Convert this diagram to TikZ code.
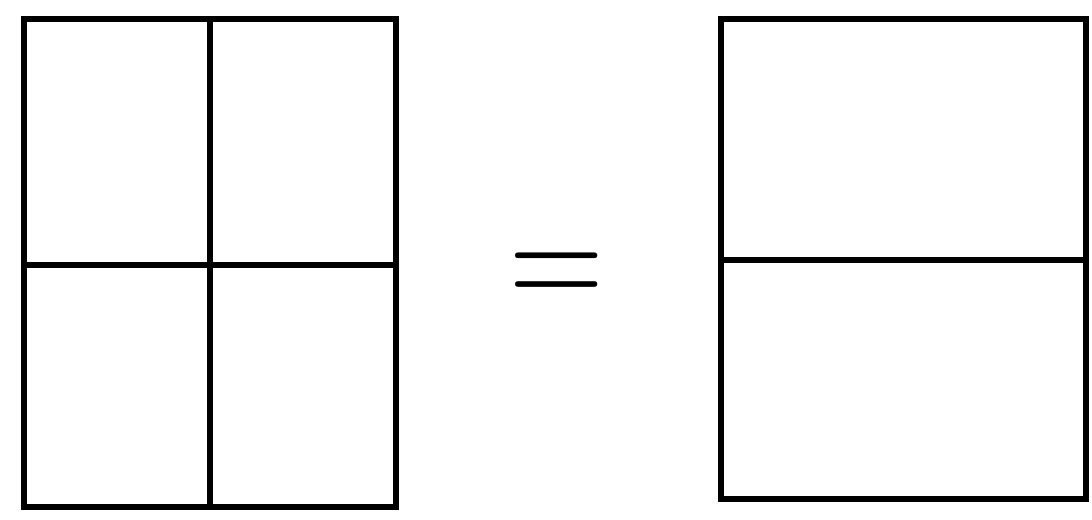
\documentclass[tikz,border=0pt]{standalone}
\usepackage{tikz}
\usetikzlibrary{positioning}

\begin{document}
\begin{tikzpicture}[
    frame/.style={draw, line width=1.7pt},
    divider/.style={line width=1.6pt},
    eqsign/.style={inner sep=0pt, font=\fontsize{31}{31}\selectfont}
]
\useasboundingbox (0,0) rectangle (10.92,5.19);
% left: four parts
\draw[frame] (0.24,0.12) rectangle (3.96,5.00);
\draw[divider] (2.10,0.12) -- (2.10,5.00);
\draw[divider] (0.24,2.54) -- (3.96,2.54);
% equals
\node[eqsign] (eq) at (5.565,2.37) {\scalebox{1.5}[1.85]{$=$}};
% right: two parts
\draw[frame] (7.21,0.20) rectangle (10.86,5.00);
\draw[divider] (7.21,2.59) -- (10.86,2.59);
\end{tikzpicture}
\end{document}
